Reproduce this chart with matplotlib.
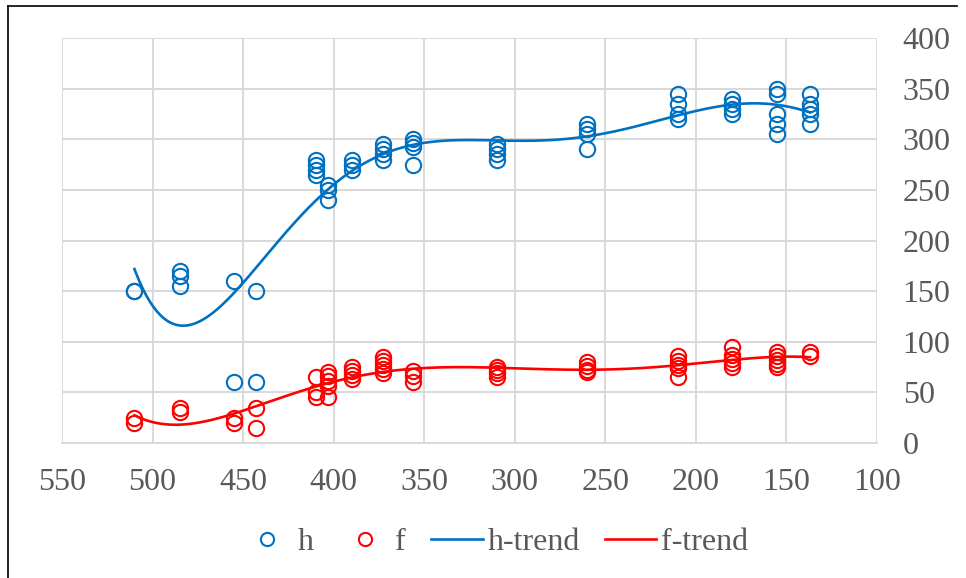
import numpy as np
import matplotlib
matplotlib.use("Agg")
import matplotlib.pyplot as plt
from matplotlib.lines import Line2D

plt.rcParams['font.family'] = ['Liberation Serif', 'DejaVu Serif']

# ---- data ----
x_pos = [510, 485, 455, 443, 410, 403, 390, 373, 356, 310, 260, 210, 180, 155, 137]
h_vals = [[150, 150], [170, 165, 155], [160, 60], [150, 60], [280, 275, 270, 265],
          [255, 250, 240], [280, 275, 270], [295, 290, 285, 280],
          [300, 296, 292, 275], [295, 290, 285, 280], [315, 310, 305, 290],
          [345, 335, 325, 320], [340, 335, 330, 325], [350, 345, 325, 315, 305],
          [345, 335, 330, 325, 315]]
f_vals = [[25, 20], [35, 31], [25, 20], [35, 15], [65, 50, 45],
          [70, 66, 61, 56, 45], [75, 71, 67, 63], [85, 81, 77, 73, 69],
          [71, 66, 60], [75, 72, 69, 65], [80, 76, 72, 70],
          [86, 81, 77, 74, 65], [95, 87, 83, 79, 75], [90, 86, 82, 78, 75],
          [90, 86]]
x_ticks = [550, 500, 450, 400, 350, 300, 250, 200, 150, 100]
y_ticks = [0, 50, 100, 150, 200, 250, 300, 350, 400]
trend_order = 6

blue = '#0070C0'
red = '#FF0000'
grey_text = '#595959'
grid_c = '#D9D9D9'

def flatten(xs, vals):
    xx, yy = [], []
    for x, vs in zip(xs, vals):
        for v in vs:
            xx.append(x)
            yy.append(v)
    return np.array(xx, float), np.array(yy, float)

hx, hy = flatten(x_pos, h_vals)
fx, fy = flatten(x_pos, f_vals)

fig = plt.figure(figsize=(9.66, 5.78), dpi=100)
ax = fig.add_axes([62/966, (578-443)/578, (877-62)/966, (443-38)/578])

ax.set_xlim(550, 100)
ax.set_ylim(0, 400)
ax.set_xticks(x_ticks)
ax.set_yticks(y_ticks)
ax.yaxis.tick_right()
ax.grid(True, color=grid_c, linewidth=1.4, zorder=0)
for s in ['top', 'right', 'left']:
    ax.spines[s].set_visible(False)
ax.spines['bottom'].set_color(grid_c)
ax.spines['bottom'].set_linewidth(1.4)
ax.tick_params(axis='both', length=0, labelsize=23, labelcolor=grey_text)
ax.tick_params(axis='x', pad=18)
ax.tick_params(axis='y', pad=18.5)

ms = 11
ax.plot(hx, hy, linestyle='none', marker='o', markersize=ms, markerfacecolor='none',
        markeredgecolor=blue, markeredgewidth=1.5, zorder=3)
ax.plot(fx, fy, linestyle='none', marker='o', markersize=ms, markerfacecolor='none',
        markeredgecolor=red, markeredgewidth=1.5, zorder=3)

xs = np.linspace(min(x_pos), max(x_pos), 400)
ph = np.polynomial.Polynomial.fit(hx, hy, trend_order)
pf = np.polynomial.Polynomial.fit(fx, fy, trend_order)
ax.plot(xs, ph(xs), color=blue, linewidth=1.9, zorder=4)
ax.plot(xs, pf(xs), color=red, linewidth=1.9, zorder=4)

handles = [
    Line2D([], [], linestyle='none', marker='o', markersize=9.5, markerfacecolor='none',
           markeredgecolor=blue, markeredgewidth=1.5),
    Line2D([], [], linestyle='none', marker='o', markersize=9.5, markerfacecolor='none',
           markeredgecolor=red, markeredgewidth=1.5),
    Line2D([], [], color=blue, linewidth=1.9),
    Line2D([], [], color=red, linewidth=1.9),
]
labels = ['h', 'f', 'h-trend', 'f-trend']
leg = fig.legend(handles, labels, loc='center', bbox_to_anchor=(495/966, 1-542/578),
                 ncol=4, frameon=False, fontsize=23, handlelength=1.6,
                 handletextpad=0.15, columnspacing=0.8, borderpad=0)
for t in leg.get_texts():
    t.set_color(grey_text)

# outer border (top and left)
fig.add_artist(Line2D([8/966, 957/966], [1-6/578, 1-6/578], color='black', linewidth=1.2,
                      transform=fig.transFigure))
fig.add_artist(Line2D([8/966, 8/966], [1-6/578, 0], color='black', linewidth=1.2,
                      transform=fig.transFigure))

fig.savefig('out.png', dpi=100)
